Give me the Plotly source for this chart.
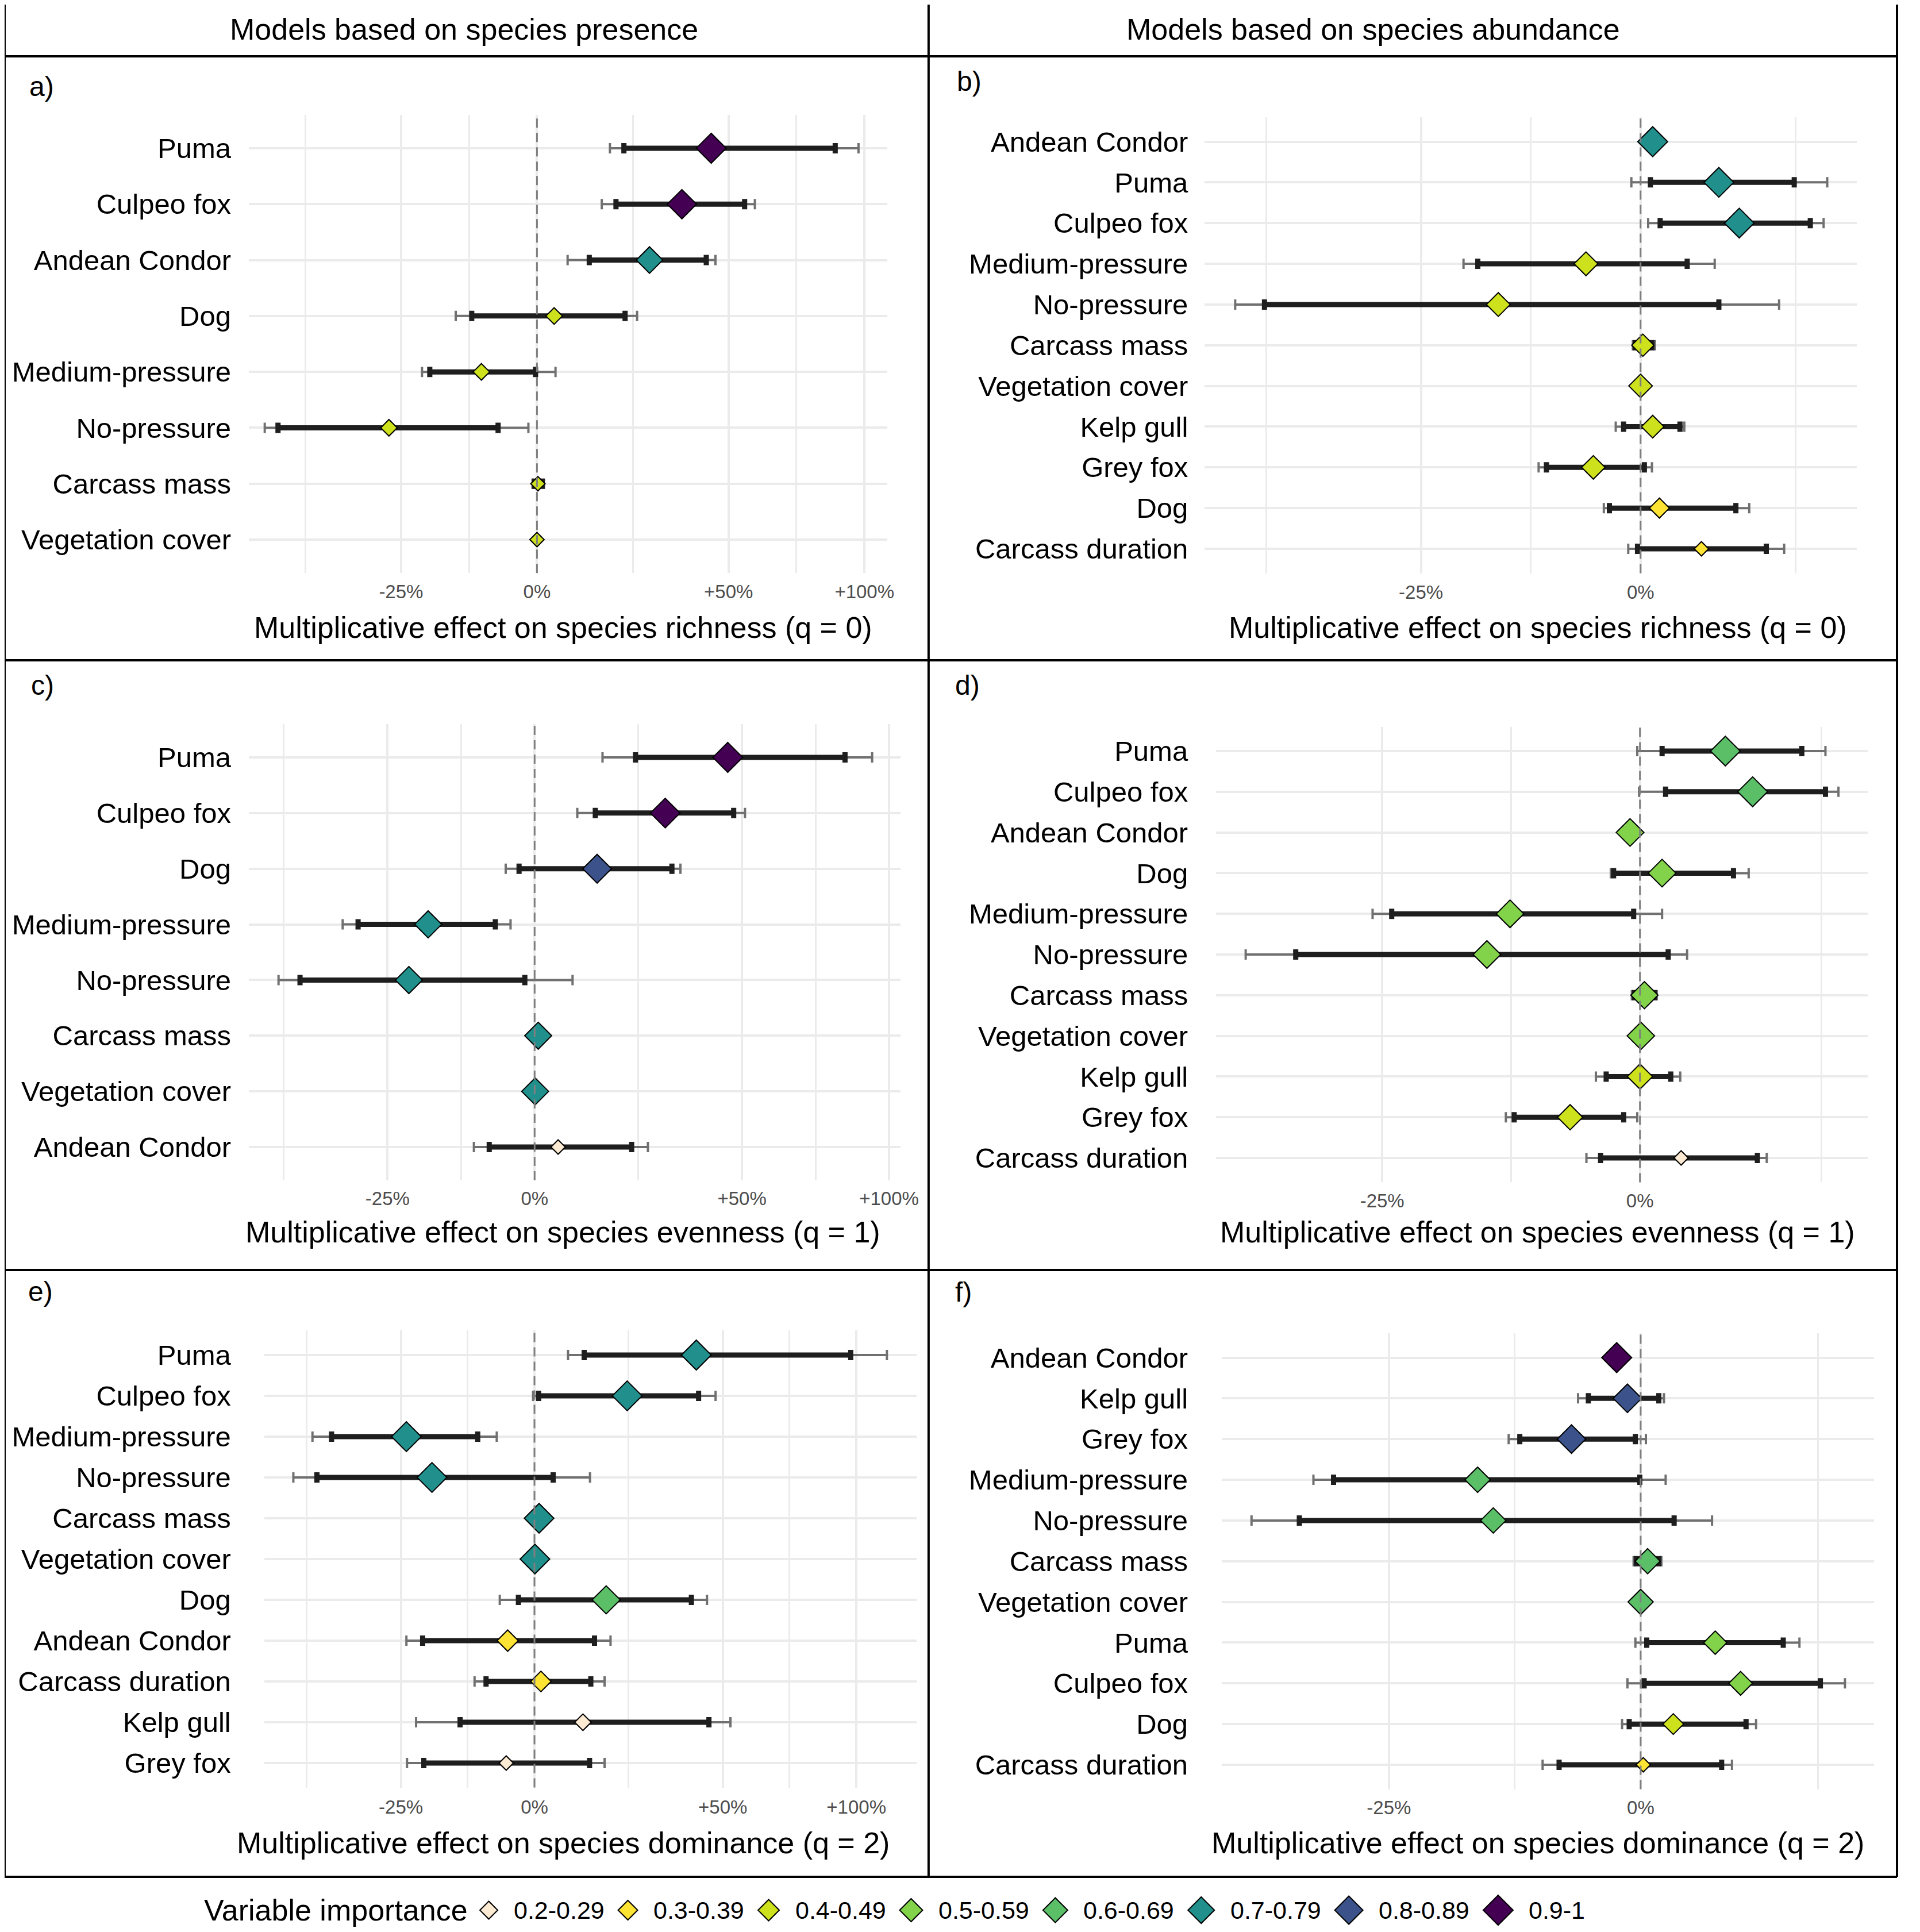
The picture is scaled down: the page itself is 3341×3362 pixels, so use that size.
import numpy as np
import plotly.graph_objects as go

W, H = 3341, 3362
PAD = 8  # browser body margin around the plot div
FONT = "Liberation Sans, Arial, sans-serif"

# ---- legend bins -------------------------------------------------------
IMPORTANCE_BINS = ["0.2-0.29", "0.3-0.39", "0.4-0.49", "0.5-0.59",
                   "0.6-0.69", "0.7-0.79", "0.8-0.89", "0.9-1"]
BIN_COLORS = ["#FCEAD2", "#FDE333", "#CDE11D", "#82D34A",
              "#5BBF68", "#21908C", "#3B528B", "#440154"]

TICK_VALUES = [0.5, 0.75, 1.0, 1.5, 2.0]
TICK_TEXT = ["-50%", "-25%", "0%", "+50%", "+100%"]

HEADERS = ["Models based on species presence", "Models based on species abundance"]

# ---- a) presence, richness ----------------------------------------------
a_vars = ["Puma", "Culpeo fox", "Andean Condor", "Dog", "Medium-pressure",
          "No-pressure", "Carcass mass", "Vegetation cover"]
a_est = [1.446, 1.359, 1.269, 1.037, 0.889, 0.731, 1.002, 1.000]
a_in_lo = [1.202, 1.182, 1.117, 0.871, 0.797, 0.578, 0.994, 0.999]
a_in_hi = [1.880, 1.552, 1.431, 1.205, 0.997, 0.921, 1.011, 1.001]
a_out_lo = [1.167, 1.147, 1.067, 0.842, 0.784, 0.562, 0.991, 0.998]
a_out_hi = [1.975, 1.586, 1.459, 1.236, 1.040, 0.982, 1.015, 1.002]
a_imp = [0.95, 0.91, 0.75, 0.45, 0.45, 0.45, 0.44, 0.44]

# ---- b) abundance, richness ---------------------------------------------
b_vars = ["Andean Condor", "Puma", "Culpeo fox", "Medium-pressure", "No-pressure",
          "Carcass mass", "Vegetation cover", "Kelp gull", "Grey fox", "Dog",
          "Carcass duration"]
b_est = [1.016, 1.108, 1.138, 0.931, 0.830, 1.003, 1.000, 1.016, 0.940, 1.025, 1.083]
b_in_lo = [1.012, 1.013, 1.026, 0.808, 0.611, 0.993, 0.999, 0.978, 0.884, 0.960, 0.996]
b_in_hi = [1.020, 1.223, 1.249, 1.063, 1.108, 1.015, 1.001, 1.053, 1.005, 1.133, 1.179]
b_out_lo = [1.009, 0.988, 1.010, 0.793, 0.588, 0.990, 0.998, 0.968, 0.875, 0.953, 0.984]
b_out_hi = [1.023, 1.277, 1.271, 1.102, 1.199, 1.019, 1.002, 1.059, 1.015, 1.153, 1.207]
b_imp = [0.76, 0.75, 0.75, 0.47, 0.47, 0.42, 0.46, 0.43, 0.46, 0.36, 0.30]

# ---- c) presence, evenness ----------------------------------------------
c_vars = ["Puma", "Culpeo fox", "Dog", "Medium-pressure", "No-pressure",
          "Carcass mass", "Vegetation cover", "Andean Condor"]
c_est = [1.459, 1.291, 1.130, 0.812, 0.782, 1.007, 1.001, 1.047]
c_in_lo = [1.218, 1.126, 0.970, 0.708, 0.632, 1.004, 1.000, 0.915]
c_in_hi = [1.835, 1.476, 1.308, 0.926, 0.981, 1.010, 1.002, 1.209]
c_out_lo = [1.142, 1.087, 0.945, 0.687, 0.606, 1.002, 0.999, 0.888]
c_out_hi = [1.935, 1.509, 1.330, 0.954, 1.077, 1.012, 1.003, 1.248]
c_imp = [0.95, 0.93, 0.85, 0.72, 0.72, 0.71, 0.71, 0.25]

# ---- d) abundance, evenness ---------------------------------------------
d_vars = ["Puma", "Culpeo fox", "Andean Condor", "Dog", "Medium-pressure",
          "No-pressure", "Carcass mass", "Vegetation cover", "Kelp gull",
          "Grey fox", "Carcass duration"]
d_est = [1.100, 1.134, 0.989, 1.025, 0.865, 0.843, 1.005, 1.001, 1.000, 0.925, 1.047]
d_in_lo = [1.025, 1.029, 0.987, 0.971, 0.758, 0.681, 0.994, 1.000, 0.963, 0.869, 0.957]
d_in_hi = [1.198, 1.230, 0.991, 1.110, 0.993, 1.032, 1.016, 1.002, 1.035, 0.982, 1.140]
d_out_lo = [0.997, 0.999, 0.985, 0.968, 0.742, 0.644, 0.991, 0.999, 0.952, 0.861, 0.942]
d_out_hi = [1.230, 1.248, 0.993, 1.129, 1.025, 1.054, 1.019, 1.003, 1.046, 0.997, 1.152]
d_imp = [0.65, 0.66, 0.55, 0.55, 0.55, 0.55, 0.53, 0.54, 0.45, 0.45, 0.25]

# ---- e) presence, dominance ---------------------------------------------
e_vars = ["Puma", "Culpeo fox", "Medium-pressure", "No-pressure", "Carcass mass",
          "Vegetation cover", "Dog", "Andean Condor", "Carcass duration",
          "Kelp gull", "Grey fox"]
e_est = [1.417, 1.221, 0.759, 0.802, 1.010, 1.001, 1.167, 0.944, 1.014, 1.110, 0.941]
e_in_lo = [1.113, 1.009, 0.646, 0.626, 1.007, 1.000, 0.966, 0.786, 0.901, 0.852, 0.788]
e_in_hi = [1.976, 1.424, 0.885, 1.041, 1.013, 1.002, 1.402, 1.138, 1.129, 1.456, 1.126]
e_out_lo = [1.075, 0.997, 0.620, 0.595, 1.005, 0.999, 0.928, 0.759, 0.879, 0.775, 0.760]
e_out_hi = [2.136, 1.477, 0.922, 1.127, 1.015, 1.003, 1.450, 1.178, 1.163, 1.525, 1.163]
e_imp = [0.76, 0.75, 0.75, 0.75, 0.74, 0.74, 0.65, 0.35, 0.33, 0.26, 0.25]

# ---- f) abundance, dominance --------------------------------------------
f_vars = ["Andean Condor", "Kelp gull", "Grey fox", "Medium-pressure", "No-pressure",
          "Carcass mass", "Vegetation cover", "Puma", "Culpeo fox", "Dog",
          "Carcass duration"]
f_est = [0.973, 0.985, 0.924, 0.830, 0.845, 1.008, 1.000, 1.089, 1.121, 1.038, 1.003]
f_in_lo = [0.971, 0.942, 0.871, 0.704, 0.677, 0.995, 0.999, 1.007, 1.004, 0.987, 0.911]
f_in_hi = [0.975, 1.021, 0.994, 0.999, 1.039, 1.021, 1.001, 1.177, 1.228, 1.128, 1.097]
f_out_lo = [0.969, 0.931, 0.860, 0.688, 0.641, 0.992, 0.998, 0.994, 0.985, 0.979, 0.894]
f_out_hi = [0.977, 1.027, 1.006, 1.029, 1.085, 1.024, 1.002, 1.199, 1.263, 1.141, 1.110]
f_imp = [0.95, 0.85, 0.85, 0.65, 0.65, 0.64, 0.64, 0.55, 0.57, 0.45, 0.35]

X_TITLES = ["Multiplicative effect on species richness (q = 0)",
            "Multiplicative effect on species richness (q = 0)",
            "Multiplicative effect on species evenness (q = 1)",
            "Multiplicative effect on species evenness (q = 1)",
            "Multiplicative effect on species dominance (q = 2)",
            "Multiplicative effect on species dominance (q = 2)"]

panels = [
    dict(tag="a)", vars=a_vars, est=a_est, ilo=a_in_lo, ihi=a_in_hi, olo=a_out_lo, ohi=a_out_hi, imp=a_imp),
    dict(tag="b)", vars=b_vars, est=b_est, ilo=b_in_lo, ihi=b_in_hi, olo=b_out_lo, ohi=b_out_hi, imp=b_imp),
    dict(tag="c)", vars=c_vars, est=c_est, ilo=c_in_lo, ihi=c_in_hi, olo=c_out_lo, ohi=c_out_hi, imp=c_imp),
    dict(tag="d)", vars=d_vars, est=d_est, ilo=d_in_lo, ihi=d_in_hi, olo=d_out_lo, ohi=d_out_hi, imp=d_imp),
    dict(tag="e)", vars=e_vars, est=e_est, ilo=e_in_lo, ihi=e_in_hi, olo=e_out_lo, ohi=e_out_hi, imp=e_imp),
    dict(tag="f)", vars=f_vars, est=f_est, ilo=f_in_lo, ihi=f_in_hi, olo=f_out_lo, ohi=f_out_hi, imp=f_imp),
]

# ---- geometry (pixels of the 3341x3362 page) ---------------------------
boxes = [
    dict(xd=(437, 1558), rows=(258, 939), lim=(0.5434, 2.0980), stand=30, tag=(49, 150), tick=1028, title=1092, tx=989),
    dict(xd=(2116, 3261), rows=(246.5, 955), lim=(0.5650, 1.3271), stand=28, tag=(1679, 141), tick=1028, title=1092, tx=2701),
    dict(xd=(437, 1582), rows=(1318, 1996), lim=(0.5718, 2.0462), stand=30, tag=(52, 1192), tick=2084, title=2144, tx=989),
    dict(xd=(2136, 3281), rows=(1307, 2015), lim=(0.6231, 1.2898), stand=48, tag=(1676, 1192), tick=2088, title=2144, tx=2701),
    dict(xd=(464, 1610), rows=(2358, 3068), lim=(0.5588, 2.2773), stand=57, tag=(47, 2247), tick=3142, title=3207, tx=989),
    dict(xd=(2146, 3292), rows=(2362.5, 3071), lim=(0.6196, 1.3060), stand=58, tag=(1676, 2248), tick=3143, title=3207, tx=2701),
]

FW, FH = W - 2 * PAD, H - 2 * PAD


def px(x):
    return (x - PAD) / FW


def py(y):
    return 1 - (y - PAD) / FH


def bin_index(v):
    return min(int(np.floor(round((v - 0.2) * 10, 6))), 7)


minor_vals = list(np.sqrt(np.array(TICK_VALUES[:-1]) * np.array(TICK_VALUES[1:])))

fig = go.Figure()
layout = {}
annotations = []
shapes = []

for i, (p, b) in enumerate(zip(panels, boxes)):
    k = "" if i == 0 else str(i + 1)
    xa, ya = "x" + k, "y" + k
    n = len(p["vars"])
    est = np.array(p["est"])
    imp = np.array(p["imp"])

    t = (imp - imp.min()) / (imp.max() - imp.min())
    widths = 25 + 27 * np.sqrt(t)
    colors = [BIN_COLORS[bin_index(v)] for v in imp]

    # outer interval: thin grey
    fig.add_trace(go.Scatter(
        x=est, y=p["vars"], mode="markers", xaxis=xa, yaxis=ya,
        marker=dict(size=2, opacity=0), showlegend=False, hoverinfo="skip",
        error_x=dict(type="data", symmetric=False,
                     array=np.array(p["ohi"]) - est, arrayminus=est - np.array(p["olo"]),
                     color="#707070", thickness=4, width=9)))
    # inner interval: thick black
    fig.add_trace(go.Scatter(
        x=est, y=p["vars"], mode="markers", xaxis=xa, yaxis=ya,
        marker=dict(size=2, opacity=0), showlegend=False, hoverinfo="skip",
        error_x=dict(type="data", symmetric=False,
                     array=np.array(p["ihi"]) - est, arrayminus=est - np.array(p["ilo"]),
                     color="#1E1E1E", thickness=9, width=9)))
    # estimates
    fig.add_trace(go.Scatter(
        x=est, y=p["vars"], mode="markers", xaxis=xa, yaxis=ya, showlegend=False,
        marker=dict(symbol="diamond", size=widths / 1.3, color=colors, opacity=1,
                    line=dict(color="black", width=2))))

    top, bot = b["rows"]
    step = (bot - top) / (n - 1)
    d_top, d_bot = top - 0.6 * step, bot + 0.6 * step

    layout["xaxis" + k] = dict(
        domain=[px(b["xd"][0]), px(b["xd"][1])], anchor=ya, type="log",
        range=[np.log10(b["lim"][0]), np.log10(b["lim"][1])],
        tickmode="array", tickvals=TICK_VALUES, ticktext=TICK_TEXT,
        tickfont=dict(size=33, color="#4D4D4D", family=FONT),
        ticks="", showline=False, zeroline=False,
        showgrid=True, gridcolor="#EBEBEB", gridwidth=4,
        minor=dict(tickmode="array", tickvals=minor_vals, showgrid=True,
                   gridcolor="#EBEBEB", gridwidth=3, ticks=""),
        ticklabelstandoff=int(b["tick"] - d_bot - 20),
    )
    layout["yaxis" + k] = dict(
        domain=[py(d_bot), py(d_top)], anchor=xa, type="category",
        categoryorder="array", categoryarray=p["vars"],
        range=[n - 0.4, -0.6], ticks="", showline=False, zeroline=False,
        showgrid=True, gridcolor="#EBEBEB", gridwidth=4,
        tickfont=dict(size=49, color="black", family=FONT),
        ticklabelstandoff=b["stand"],
    )

    shapes.append(dict(type="line", xref=xa, yref=ya + " domain", x0=1, x1=1, y0=0, y1=1,
                       line=dict(color="#7F7F7F", width=3, dash="16px,9px")))

    annotations.append(dict(text=p["tag"], x=px(b["tag"][0]), y=py(b["tag"][1]),
                            xref="paper", yref="paper", xanchor="left", yanchor="middle",
                            showarrow=False, font=dict(size=48, color="black", family=FONT)))
    annotations.append(dict(text=X_TITLES[i], x=px(b["tx"]), y=py(b["title"]),
                            xref="paper", yref="paper", xanchor="center", yanchor="middle",
                            showarrow=False, font=dict(size=52, color="black", family=FONT)))

# column headers
for text, cx in zip(HEADERS, [815, 2412]):
    annotations.append(dict(text=text, x=px(cx), y=py(51), xref="paper", yref="paper",
                            xanchor="center", yanchor="middle", showarrow=False,
                            font=dict(size=52, color="black", family=FONT)))

# frame
L, R, M = 8, 3332, 1631
for yy in [6, 98, 1149, 2210, 3266]:
    shapes.append(dict(type="line", xref="paper", yref="paper", x0=px(L), x1=px(R),
                       y0=py(yy), y1=py(yy), line=dict(color="black", width=4)))
for xx in [L, M, R]:
    shapes.append(dict(type="line", xref="paper", yref="paper", x0=px(xx), x1=px(xx),
                       y0=py(6), y1=py(3266), line=dict(color="black", width=4)))

# ---- bottom legend ------------------------------------------------------
CHAR_W = {".": 0.278, "-": 0.333}
LEG_FONT = 43
leg_y = 3324
annotations.append(dict(text="Variable importance", x=px(356), y=py(leg_y), xref="paper", yref="paper",
                        xanchor="left", yanchor="middle", showarrow=False,
                        font=dict(size=52, color="black", family=FONT)))
leg_x, leg_w = [], []
cursor = 843
for j, lab in enumerate(IMPORTANCE_BINS):
    w = 31 + 3 * j
    cx = cursor + w / 2
    lx = cx + w / 2 + 26
    tw = sum(CHAR_W.get(ch, 0.556) for ch in lab) * LEG_FONT
    leg_x.append(cx)
    leg_w.append(w)
    annotations.append(dict(text=lab, x=px(lx), y=py(leg_y), xref="paper", yref="paper",
                            xanchor="left", yanchor="middle", showarrow=False,
                            font=dict(size=LEG_FONT, color="black", family=FONT)))
    cursor = lx + tw + 28

fig.add_trace(go.Scatter(
    x=leg_x, y=[0] * len(leg_x), mode="markers", xaxis="x7", yaxis="y7", showlegend=False,
    marker=dict(symbol="diamond", size=np.array(leg_w) / 1.3, color=BIN_COLORS, opacity=1,
                line=dict(color="black", width=2)), hoverinfo="skip"))
layout["xaxis7"] = dict(domain=[0, 1], range=[PAD, W - PAD], visible=False, anchor="y7")
layout["yaxis7"] = dict(domain=[py(3354), py(3294)], range=[-1, 1], visible=False, anchor="x7")

fig.update_layout(
    width=FW, height=FH, margin=dict(l=0, r=0, t=0, b=0),
    paper_bgcolor="white", plot_bgcolor="white",
    font=dict(family=FONT, color="black"),
    annotations=annotations, shapes=shapes, showlegend=False,
    **layout,
)

fig.write_html("out.html")
